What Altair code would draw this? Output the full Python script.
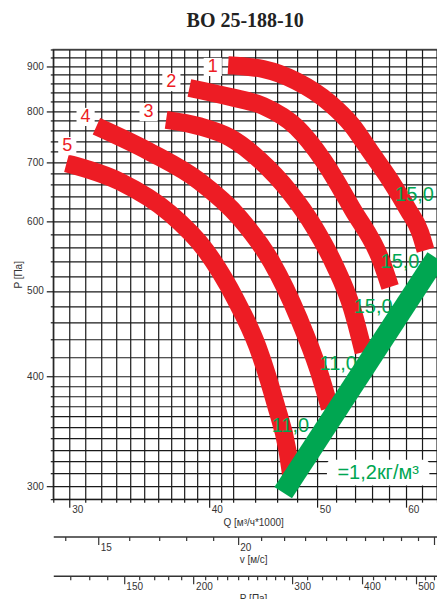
import altair as alt
import pandas as pd

TITLE = "ВО 25-188-10"

# scale domains
Q_DOMAIN = [29, 64]
P_DOMAIN = [290, 940]
V_DOMAIN = [13.67, 30.17]
PD_DOMAIN = [112.1, 546]

# grid / tick values
q_grid = list(range(29, 42)) + list(range(42, 65, 2))
q_major = [30, 40, 50, 60]
p_grid = list(range(290, 400, 10)) + list(range(400, 941, 20))
p_major = [300, 400, 500, 600, 700, 800, 900]
v_ticks = list(range(14, 31))
v_major = [15, 20, 30]
pd_ticks = list(range(120, 300, 10)) + list(range(300, 541, 20))
pd_major = [150, 200, 300, 400, 500]

# fan curves (Q in 1000 m3/h, P in Pa)
c1_q = [41.6, 44.7, 47.9, 51.3, 53.7, 55.8, 58.1, 60.3, 61.8, 62.5]
c1_p = [902, 893, 865, 817, 771, 719, 668, 618, 583, 556]
c2_q = [38.4, 41.8, 44.7, 47.9, 50.6, 53.8, 57.0, 58.1]
c2_p = [850, 830, 811, 767, 704, 618, 542, 505]
c3_q = [36.6, 39.2, 41.8, 44.4, 47.2, 49.7, 51.8, 53.7, 55.0]
c3_p = [782, 769, 746, 704, 648, 590, 535, 478, 426]
c4_q = [31.7, 35.4, 39.2, 42.6, 45.5, 48.2, 50.1, 51.3]
c4_p = [769, 719, 666, 605, 539, 463, 407, 368]
c5_q = [29.8, 33.3, 36.9, 39.7, 42.2, 44.2, 45.9, 47.0, 47.4]
c5_p = [698, 665, 612, 556, 490, 432, 371, 330, 307]

# green system line
g_q = [46.6, 63.9]
g_p = [295, 545]

# curve number labels
num_text = ["1", "2", "3", "4", "5"]
num_q = [40.3, 37.0, 35.3, 31.0, 29.85]
num_p = [898, 863, 798, 788, 730]

# green value labels
gl_text = ["15,0", "15,0", "15,0", "11,0", "11,0"]
gl_q = [61.1, 59.3, 56.1, 52.2, 47.3]
gl_p = [642, 539, 479, 413, 351]

# density label box
dens_text = "=1,2кг/м³"
box_q = [51.0, 63.0]
box_p = [300.5, 321.5]

RED = "#ed1c24"
GREEN = "#00a651"
FONT = "Liberation Sans"
TXT = "#333333"
GRID = "#1a1a1a"

rows = []
for cid, qs, ps in [("1", c1_q, c1_p), ("2", c2_q, c2_p), ("3", c3_q, c3_p),
                    ("4", c4_q, c4_p), ("5", c5_q, c5_p)]:
    for i, (q, p) in enumerate(zip(qs, ps)):
        rows.append({"curve": cid, "Q": q, "P": p, "ord": i})
df_curves = pd.DataFrame(rows)
df_green = pd.DataFrame({"Q": g_q, "P": g_p, "ord": [0, 1]})
df_num = pd.DataFrame({"Q": num_q, "P": num_p, "t": num_text})
df_gl = pd.DataFrame({"Q": gl_q, "P": gl_p, "t": gl_text})
df_box = pd.DataFrame({"Q": [box_q[0]], "Q2": [box_q[1]], "P": [box_p[0]], "P2": [box_p[1]],
                       "Qc": [(box_q[0] * box_q[1]) ** 0.5], "Pc": [(box_p[0] * box_p[1]) ** 0.5],
                       "t": [dens_text]})


def cond(major, big, small):
    return {"condition": {"test": f"indexof({major}, datum.value) >= 0", "value": big}, "value": small}


def lab(major):
    return f"indexof({major}, datum.value) >= 0 ? format(datum.value, 'd') : ''"


q_axis = alt.Axis(values=q_grid, grid=True, gridColor=GRID, gridWidth=1.2, domain=False,
                  tickColor=GRID, tickWidth=1.2, tickSize=cond(q_major, 8, 3),
                  labelExpr=lab(q_major), labelAlign="left", labelBaseline="top", labelOffset=2,
                  labelPadding=-3, labelFont=FONT, labelFontSize=10, labelColor=TXT,
                  labelOverlap=False, labelFlush=False,
                  title="Q [м³/ч*1000]", titleFont=FONT, titleFontSize=10, titleFontWeight="normal",
                  titleColor=TXT, titleX=200, titleY=26, titleBaseline="alphabetic", titleAlign="center")
p_axis = alt.Axis(values=p_grid, grid=True, gridColor=GRID, gridWidth=1.2, domain=False,
                  tickColor=GRID, tickWidth=1.2, tickSize=cond(p_major, 7, 3),
                  labelExpr=lab(p_major), labelAlign="right", labelBaseline="middle",
                  labelPadding=3, labelFont=FONT, labelFontSize=10, labelColor=TXT,
                  labelOverlap=False, labelFlush=False,
                  title="P [Па]", titleFont=FONT, titleFontSize=10, titleFontWeight="normal",
                  titleColor=TXT, titlePadding=3)

xs = alt.Scale(type="log", domain=Q_DOMAIN, nice=False)
ys = alt.Scale(type="log", domain=P_DOMAIN, nice=False)


def X(f="Q"):
    return alt.X(f"{f}:Q", scale=xs, axis=q_axis)


def Y(f="P"):
    return alt.Y(f"{f}:Q", scale=ys, axis=p_axis)


curves = alt.Chart(df_curves).mark_line(color=RED, strokeWidth=18, strokeCap="butt",
                                          interpolate="monotone").encode(
    x=X(), y=Y(), detail="curve:N", order="ord:Q")
num_bg = alt.Chart(df_num).mark_square(size=330, color="white", opacity=1).encode(x=X(), y=Y())
num_tx = alt.Chart(df_num).mark_text(font=FONT, fontSize=18, color=RED, baseline="middle").encode(
    x=X(), y=Y(), text="t:N")
gl_tx = alt.Chart(df_gl).mark_text(font=FONT, fontSize=20, color=GREEN, baseline="middle").encode(
    x=X(), y=Y(), text="t:N")
green = alt.Chart(df_green).mark_line(color=GREEN, strokeWidth=21, strokeCap="butt").encode(
    x=X(), y=Y(), order="ord:Q")
box = alt.Chart(df_box).mark_rect(color="white", cornerRadius=5).encode(
    x=X(), x2="Q2:Q", y=Y(), y2="P2:Q")
box_tx = alt.Chart(df_box).mark_text(font=FONT, fontSize=20, color=GREEN, baseline="middle").encode(
    x=X("Qc"), y=Y("Pc"), text="t:N")

main = alt.layer(curves, num_bg, num_tx, gl_tx, green, box, box_tx)


def sec_axis(field, domain, ticks, major, offset, title):
    df = pd.DataFrame({field: domain})
    ax = alt.Axis(orient="bottom", offset=offset, values=ticks, grid=False, domain=True,
                  domainColor="#333333", domainWidth=1.5, tickColor="#333333", tickWidth=1.2,
                  tickSize=cond(major, 8, 4), labelExpr=lab(major), labelAlign="left",
                  labelBaseline="top", labelOffset=2, labelPadding=-2, labelFont=FONT, labelFontSize=10,
                  labelColor=TXT, labelOverlap=False, labelFlush=False,
                  title=title, titleFont=FONT, titleFontSize=10, titleFontWeight="normal",
                  titleColor=TXT, titleX=200, titleY=26, titleBaseline="alphabetic", titleAlign="center")
    return alt.Chart(df).mark_point(opacity=0).encode(
        x=alt.X(f"{field}:Q", scale=alt.Scale(type="log", domain=domain, nice=False), axis=ax))


v_layer = sec_axis("v", V_DOMAIN, v_ticks, v_major, 37.4, "v [м/с]")
pd_layer = sec_axis("pd", PD_DOMAIN, pd_ticks, pd_major, 76.7, "P   [Па]")
sub = alt.Chart(pd.DataFrame({"t": ["д"]})).mark_text(
    font=FONT, fontSize=7, color=TXT, align="left", baseline="alphabetic").encode(
    x=alt.value(189), y=alt.value(554), text="t:N")
title_mark = alt.Chart(pd.DataFrame({"t": [TITLE]})).mark_text(
    font="Liberation Serif", fontSize=20, fontWeight="bold", color="#222222",
    align="center", baseline="alphabetic").encode(
    x=alt.value(192), y=alt.value(-22.5), text="t:N")

chart = alt.layer(main, v_layer, pd_layer, sub, title_mark).resolve_scale(x="independent").properties(
    width=384, height=450,
    padding={"left": 45.3, "top": 41.3, "right": 0, "bottom": 100},
    autosize=alt.AutoSizeParams(type="none"),
).configure_view(stroke="#666666", strokeWidth=1.5)

chart.save("out.html", embed_options={"renderer": "svg", "actions": False})
